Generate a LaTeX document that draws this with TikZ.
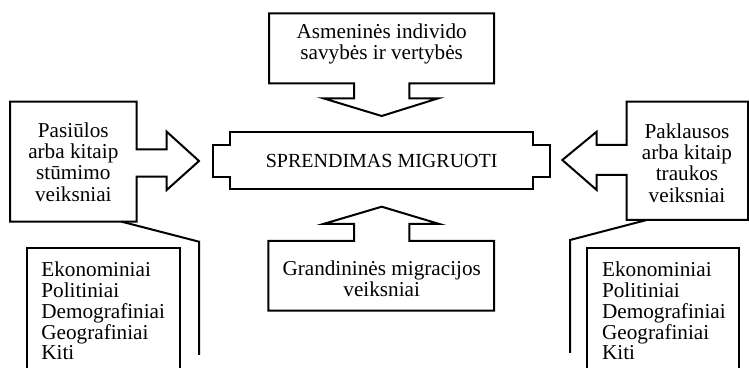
\documentclass[tikz,border=0pt]{standalone}
\usepackage{fontspec}
\setmainfont{Liberation Serif}
\usetikzlibrary{positioning,calc}
\tikzset{txt/.style={align=center, inner sep=0pt, font=\fontsize{10.6}{10.6}\selectfont}}
\tikzstyle{lst}=[align=left, inner sep=0pt, anchor=north west, font=\fontsize{10.6}{10.4}\selectfont]
\tikzstyle{ln}=[line width=1pt, line join=miter]

\begin{document}
\begin{tikzpicture}[x=0.5pt, y=-0.5pt]
\useasboundingbox (0,0) rectangle (749,368);
% callout shapes
\draw[ln] (269,13.3) -- (494,13.3) -- (494,83.3) -- (409.3,83.3) -- (409.3,98.3) -- (438.3,98.3)
  -- (381.7,116) -- (323.3,98.3) -- (354,98.3) -- (354,83.3) -- (269,83.3) -- cycle;
\draw[ln] (268.3,310.7) -- (494,310.7) -- (494,241) -- (409.3,241) -- (409.3,224) -- (439.3,224)
  -- (381.7,206.7) -- (323.3,224) -- (354,224) -- (354,241) -- (268.3,241) -- cycle;
\draw[ln] (10,101.7) -- (136.7,101.7) -- (136.7,149.3) -- (166.7,149.3) -- (166.7,131.7) -- (199,161)
  -- (166.7,190) -- (166.7,176.7) -- (136.7,176.7) -- (136.7,221.7) -- (10,221.7) -- cycle;
\draw[ln] (748,101.7) -- (626.7,101.7) -- (626.7,145) -- (596.7,145) -- (596.7,131.7) -- (562.3,160)
  -- (596.7,190) -- (596.7,175) -- (626.7,175) -- (626.7,220) -- (748,220) -- cycle;
\draw[ln] (230,131.7) -- (533.3,131.7) -- (533.3,145) -- (550,145) -- (550,176.7) -- (533.3,176.7)
  -- (533.3,189) -- (230,189) -- (230,176.7) -- (213.3,176.7) -- (213.3,145) -- (230,145) -- cycle;
% list boxes
\draw[ln] (26.7,368) -- (26.7,248.3) -- (180,248.3) -- (180,368);
\draw[ln] (586.7,368) -- (586.7,248.3) -- (739.3,248.3) -- (739.3,368);

% texts
\node[txt] (Ind) at (381.7,44) {Asmeninės individo\\savybės ir vertybės};
\node[txt, font=\fontsize{10}{10}\selectfont] (Sp) at (381.7,161) {SPRENDIMAS MIGRUOTI};
\node[txt] (Gr) at (381.7,279) {Grandininės migracijos\\veiksniai};
\node[txt] (St) at (73.3,162) {Pasiūlos\\arba kitaip\\stūmimo\\veiksniai};
\node[txt] (Tr) at (687,163) {Paklausos\\arba kitaip\\traukos\\veiksniai};
\node[lst] (LL) at (41,261.5) {Ekonominiai\\Politiniai\\Demografiniai\\Geografiniai\\Kiti};
\node[lst] (RL) at (601.7,261.5) {Ekonominiai\\Politiniai\\Demografiniai\\Geografiniai\\Kiti};

% brackets
\coordinate (L0) at (121.7,221.7);
\coordinate (L1) at (199,241.7);
\coordinate (L2) at (199,355);
\coordinate (R0) at (646.7,220);
\coordinate (R1) at (570,240);
\coordinate (R2) at (570,353);
\draw[ln] (L0) -- (L1) -- (L2);
\draw[ln] (R0) -- (R1) -- (R2);
\end{tikzpicture}
\end{document}
